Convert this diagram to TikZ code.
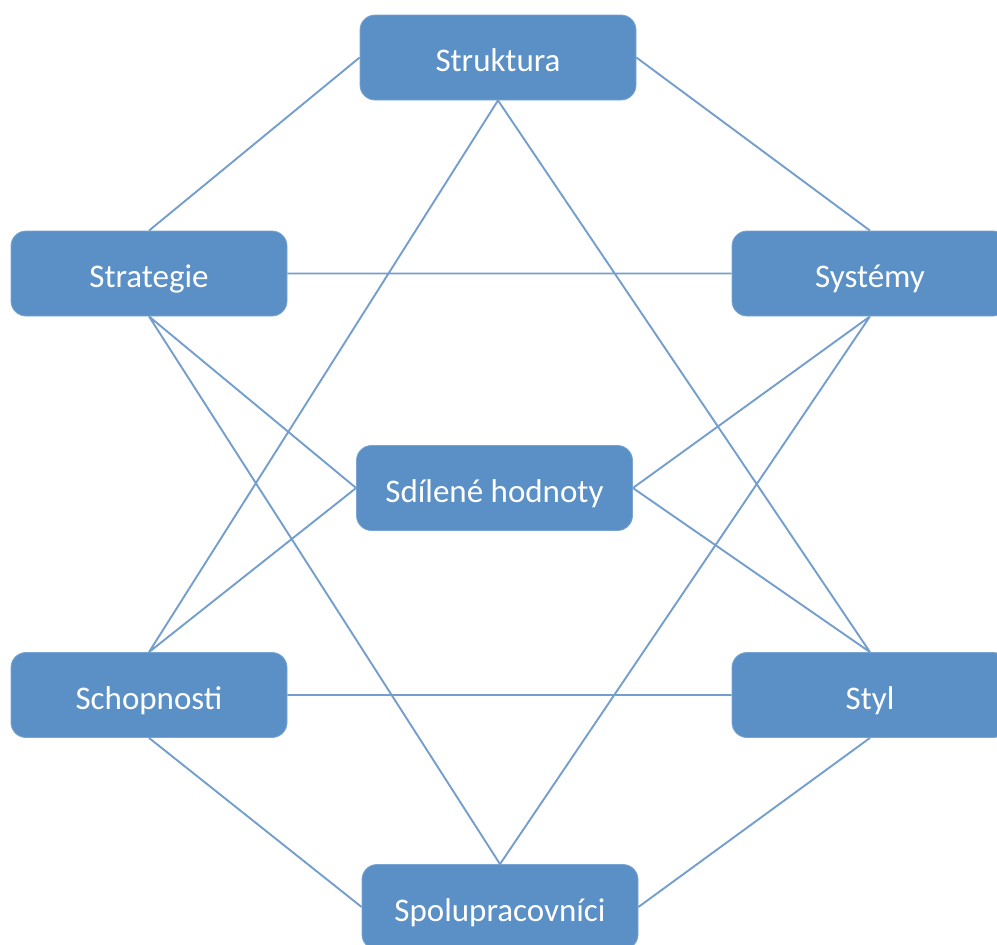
\documentclass[tikz,border=0pt]{standalone}
\usepackage{fontspec}
\setmainfont{Carlito}
\definecolor{boxblue}{RGB}{91,144,198}
\definecolor{boxedge}{RGB}{120,165,212}
\definecolor{linkblue}{RGB}{115,158,206}
\begin{document}
\begin{tikzpicture}[x=1pt,y=-1pt,
  sbox/.style={draw=boxedge, line width=0.8pt, fill=boxblue, rounded corners=15pt,
    minimum width=276pt, minimum height=85pt, inner sep=0pt,
    text=white, font=\fontsize{33}{40}\selectfont,
    text height=28pt, text depth=0pt},
  link/.style={draw=linkblue, line width=1.9pt}]
\useasboundingbox (0,0) rectangle (997,945);

% the seven elements
\node[sbox] (struktura) at (498,57.5) {Struktura};
\node[sbox] (strategie) at (149,273.5) {Strategie};
\node[sbox] (systemy) at (870,273.5) {Systémy};
\node[sbox] (hodnoty) at (494.5,488) {Sdílené hodnoty};
\node[sbox] (schopnosti) at (149,695) {Schopnosti};
\node[sbox] (styl) at (870,695) {Styl};
\node[sbox] (spolu) at (500,907) {Spolupracovníci};

% every element linked to its neighbours
\path[link]
  (struktura.west) -- (strategie.north)
  (struktura.east) -- (systemy.north)
  (struktura.south) -- (schopnosti.north)
  (struktura.south) -- (styl.north)
  (strategie.east) -- (systemy.west)
  (strategie.south) -- (hodnoty.west)
  (strategie.south) -- (spolu.north)
  (systemy.south) -- (hodnoty.east)
  (systemy.south) -- (spolu.north)
  (hodnoty.west) -- (schopnosti.north)
  (hodnoty.east) -- (styl.north)
  (schopnosti.east) -- (styl.west)
  (schopnosti.south) -- (spolu.west)
  (styl.south) -- (spolu.east);
\end{tikzpicture}
\end{document}
